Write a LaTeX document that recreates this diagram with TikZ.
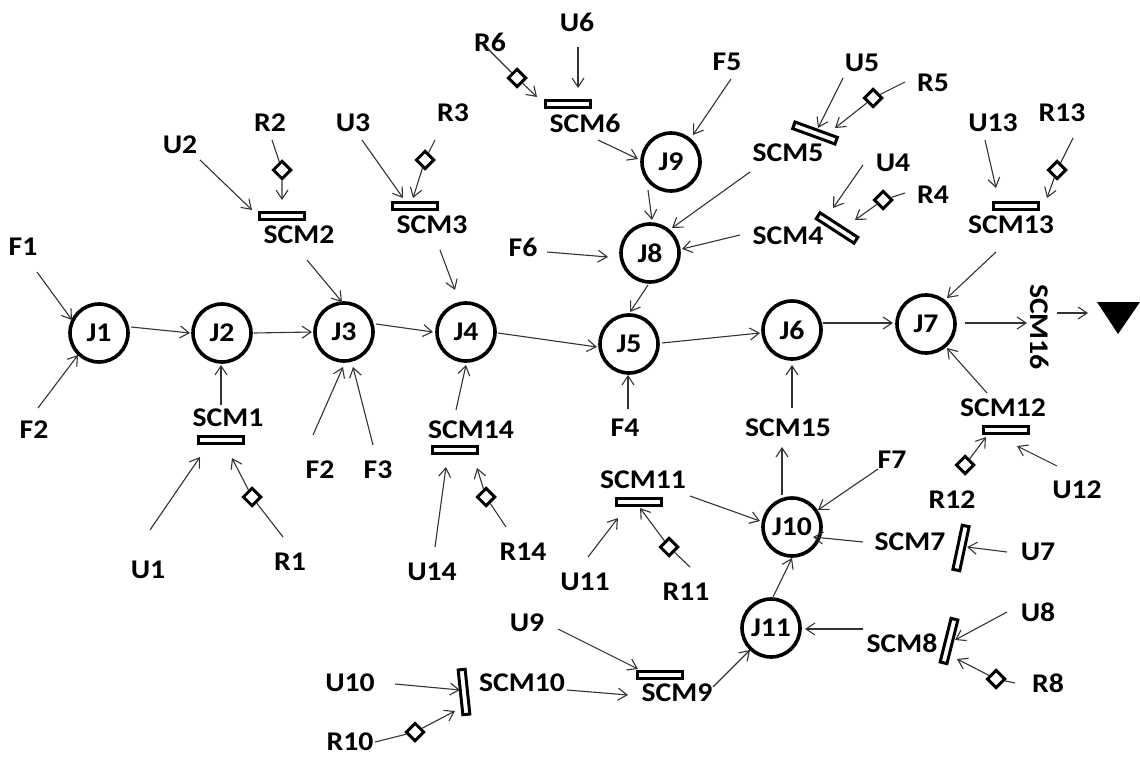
\documentclass[tikz,border=0pt]{standalone}
\usepackage{fontspec}
\setmainfont{Carlito}[FakeStretch=1.1]
\usetikzlibrary{arrows.meta,shapes.geometric,calc}

\tikzset{
  lbl/.style={font=\fontsize{27}{30}\selectfont\bfseries, inner sep=0pt, text=black},
  junc/.style={circle, draw=black, line width=3.6pt, minimum size=58pt, inner sep=0pt,
               font=\fontsize{27}{30}\selectfont\bfseries},
  gate/.style={rectangle, draw=black, line width=3pt, fill=white,
               minimum width=45pt, minimum height=7pt, inner sep=0pt},
  valve/.style={diamond, aspect=1, draw=black, line width=3pt, fill=white,
                minimum width=18.5pt, minimum height=18.5pt, inner sep=0pt},
  flow/.style={draw=black!80, line width=1.1pt,
               -{Straight Barb[length=9pt,width=12pt,line width=1.1pt]}},
}

\begin{document}
\begin{tikzpicture}[x=1pt,y=-1pt]
\useasboundingbox (0,0) rectangle (1140,759);

% junctions
\node[junc] (J1)  at (99,333)  {J1};
\node[junc] (J2)  at (222,333) {J2};
\node[junc] (J3)  at (344,332) {J3};
\node[junc] (J4)  at (466,332) {J4};
\node[junc] (J5)  at (629,344) {J5};
\node[junc] (J6)  at (792,330) {J6};
\node[junc] (J7)  at (926,324) {J7};
\node[junc] (J8)  at (650,253) {J8};
\node[junc] (J9)  at (671,162) {J9};
\node[junc] (J10) at (792,527) {J10};
\node[junc] (J11) at (771,628) {J11};

% control gates
\node[gate] (g1)  at (221,440) {};
\node[gate] (g2)  at (282,216) {};
\node[gate] (g3)  at (415,206) {};
\node[gate, rotate=-33] (g4) at (837,228) {};
\node[gate, rotate=-20] (g5) at (815,133) {};
\node[gate] (g6)  at (568,104) {};
\node[gate, rotate=78] (g7) at (961,548) {};
\node[gate, rotate=76] (g8) at (949,641) {};
\node[gate] (g9)  at (660,675) {};
\node[gate, rotate=96] (g10) at (464,692) {};
\node[gate] (g11) at (639,502) {};
\node[gate] (g12) at (1006,430) {};
\node[gate] (g13) at (1016,206) {};
\node[gate] (g14) at (455,450) {};

% labels
\node[lbl] (F1)  at (23,247)  {F1};
\node[lbl] (F2a) at (34,430)  {F2};
\node[lbl] (F2b) at (320,470) {F2};
\node[lbl] (F3)  at (378,470) {F3};
\node[lbl] (F4)  at (625,428) {F4};
\node[lbl] (F5)  at (727,62)  {F5};
\node[lbl] (F6)  at (523,247) {F6};
\node[lbl] (F7)  at (892,460) {F7};
\node[lbl] (U1)  at (148,570) {U1};
\node[lbl] (R1)  at (290,562) {R1};
\node[lbl] (U2)  at (180,145) {U2};
\node[lbl] (R2)  at (270,123) {R2};
\node[lbl] (U3)  at (353,123) {U3};
\node[lbl] (R3)  at (453,113) {R3};
\node[lbl] (U4)  at (893,163) {U4};
\node[lbl] (R4)  at (933,195) {R4};
\node[lbl] (U5)  at (862,63)  {U5};
\node[lbl] (R5)  at (933,83)  {R5};
\node[lbl] (U6)  at (577,22)  {U6};
\node[lbl] (R6)  at (490,42)  {R6};
\node[lbl] (U7)  at (1038,552) {U7};
\node[lbl] (U8)  at (1038,612) {U8};
\node[lbl] (R8)  at (1048,683) {R8};
\node[lbl] (U9)  at (527,623) {U9};
\node[lbl] (U10) at (350,683) {U10};
\node[lbl] (R10) at (350,742) {R10};
\node[lbl] (U11) at (585,582) {U11};
\node[lbl] (R11) at (686,592) {R11};
\node[lbl] (U12) at (1077,490) {U12};
\node[lbl] (R12) at (952,500) {R12};
\node[lbl] (U13) at (993,123) {U13};
\node[lbl] (R13) at (1062,113) {R13};
\node[lbl] (U14) at (432,572) {U14};
\node[lbl] (R14) at (523,552) {R14};
\node[lbl] (S1)  at (228,418) {SCM1};
\node[lbl] (S2)  at (299,235) {SCM2};
\node[lbl] (S3)  at (432,225) {SCM3};
\node[lbl] (S4)  at (788,236) {SCM4};
\node[lbl] (S5)  at (788,153) {SCM5};
\node[lbl] (S6)  at (585,123) {SCM6};
\node[lbl] (S7)  at (910,542) {SCM7};
\node[lbl] (S8)  at (902,643) {SCM8};
\node[lbl] (S9)  at (677,693) {SCM9};
\node[lbl] (S10) at (522,683) {SCM10};
\node[lbl] (S11) at (643,480) {SCM11};
\node[lbl] (S12) at (1003,408) {SCM12};
\node[lbl] (S13) at (1011,225) {SCM13};
\node[lbl] (S14) at (471,430) {SCM14};
\node[lbl] (S15) at (788,428) {SCM15};
\node[lbl, rotate=-90] (S16) at (1040,327) {SCM16};

% outlet
\coordinate (sink) at (1118,313);
\fill[black] ($(sink)+(-21,-11)$) -- ($(sink)+(22,-11)$) -- ($(sink)+(0,21)$) -- cycle;

% valves
\node[valve] (d1)  at (252,497) {};
\node[valve] (d2)  at (282,170) {};
\node[valve] (d3)  at (425,160) {};
\node[valve] (d4)  at (883,200) {};
\node[valve] (d5)  at (873,98)  {};
\node[valve] (d6)  at (517,78)  {};
\node[valve] (d8)  at (996,679) {};
\node[valve] (d10) at (415,732) {};
\node[valve] (d11) at (669,547) {};
\node[valve] (d12) at (965,465) {};
\node[valve] (d13) at (1057,170) {};
\node[valve] (d14) at (486,497) {};

% main line
\draw[flow] ($(F1)+(14,25)$) -- ($(J1)+(-27,-13)$);
\draw[flow] ($(F2a)+(4,-22)$) -- ($(J1)+(-21,22)$);
\draw[flow] ($(J1)+(32,-6)$) -- ($(J2)+(-32,0)$);
\draw[flow] ($(J2)+(32,0)$) -- ($(J3)+(-32,0)$);
\draw[flow] ($(J3)+(32,-8)$) -- ($(J4)+(-33,0)$);
\draw[flow] ($(J4)+(32,1)$) -- ($(J5)+(-32,3)$);
\draw[flow] ($(J5)+(33,-1)$) -- ($(J6)+(-32,3)$);
\draw[flow] ($(J6)+(31,-7)$) -- ($(J7)+(-33,-1)$);
\draw[flow] ($(J7)+(39,-1)$) -- ($(S16)+(-13,-4)$);
\draw[flow] ($(S16)+(17,-14)$) -- ($(sink)+(-30,0)$);

% J2 / SCM1
\draw[flow] ($(S1)+(-7,-13)$) -- ($(J2)+(-1,32)$);
\draw[flow] ($(U1)+(2,-40)$) -- ($(g1)+(-21,17)$);
\draw[flow] ($(R1)+(-7,-25)$) -- (d1) -- ($(g1)+(11,18)$);

% J3
\draw[flow] ($(F2b)+(-7,-35)$) -- ($(J3)+(-1,35)$);
\draw[flow] ($(F3)+(-5,-25)$) -- ($(J3)+(9,35)$);
\draw[flow] ($(U2)+(20,15)$) -- ($(g2)+(-30,-6)$);
\draw[flow] ($(R2)+(2,17)$) -- (d2) -- ($(g2)+(0,-16)$);
\draw[flow] ($(S2)+(8,25)$) -- ($(J3)+(-2,-30)$);

% J4
\draw[flow] ($(U3)+(9,17)$) -- ($(g3)+(-12,-8)$);
\draw[flow] ($(R3)+(-18,27)$) -- (d3) -- ($(g3)+(-2,-8)$);
\draw[flow] ($(S3)+(8,25)$) -- ($(J4)+(-11,-42)$);
\draw[flow] ($(S14)+(-15,-20)$) -- ($(J4)+(0,33)$);
\draw[flow] ($(U14)+(3,-25)$) -- ($(g14)+(-9,17)$);
\draw[flow] ($(R14)+(-17,-25)$) -- (d14) -- ($(g14)+(22,18)$);

% J5, J8, J9
\draw[flow] ($(F4)+(3,-19)$) -- ($(J5)+(-1,31)$);
\draw[flow] ($(J8)+(-2,32)$) -- ($(J5)+(1,-32)$);
\draw[flow] ($(F6)+(24,5)$) -- ($(J8)+(-42,4)$);
\draw[flow] ($(S5)+(-38,19)$) -- ($(J8)+(22,-25)$);
\draw[flow] ($(S4)+(-48,-1)$) -- ($(J8)+(32,-4)$);
\draw[flow] ($(J9)+(-23,28)$) -- ($(J8)+(2,-33)$);
\draw[flow] ($(S6)+(13,17)$) -- ($(J9)+(-33,-3)$);
\draw[flow] ($(F5)+(4,17)$) -- ($(J9)+(22,-27)$);
\draw[flow] ($(U6)+(1,25)$) -- ($(g6)+(10,-16)$);
\draw[flow] ($(R6)+(-3,6)$) -- (d6) -- ($(g6)+(-31,-7)$);
\draw[flow] ($(U5)+(-19,15)$) -- ($(g5)+(3,-5)$);
\draw[flow] ($(R5)+(-28,-1)$) -- (d5) -- ($(g5)+(20,-5)$);
\draw[flow] ($(U4)+(-30,2)$) -- ($(g4)+(-4,-20)$);
\draw[flow] ($(R4)+(-28,-2)$) -- (d4) -- ($(g4)+(18,-8)$);

% J7
\draw[flow] ($(U13)+(-8,17)$) -- ($(g13)+(-20,-18)$);
\draw[flow] ($(R13)+(11,25)$) -- (d13) -- ($(g13)+(31,-8)$);
\draw[flow] ($(S13)+(-15,27)$) -- ($(J7)+(21,-26)$);
\draw[flow] ($(S12)+(-16,-15)$) -- ($(J7)+(21,24)$);
\draw[flow] (d12) -- ($(g12)+(-20,7)$);
\draw[flow] ($(U12)+(-20,-24)$) -- ($(g12)+(11,16)$);

% J6, J10, J11
\draw[flow] ($(S15)+(4,-20)$) -- ($(J6)+(0,35)$);
\draw[flow] ($(J10)+(-10,-32)$) -- ($(S15)+(-6,19)$);
\draw[flow] ($(F7)+(-14,9)$) -- ($(J10)+(26,-17)$);
\draw[flow] ($(S7)+(-47,0)$) -- ($(J10)+(21,10)$);
\draw[flow] ($(U7)+(-31,0)$) -- ($(g7)+(6,-1)$);
\draw[flow] ($(S11)+(47,16)$) -- ($(J10)+(-32,-6)$);
\draw[flow] ($(U11)+(3,-25)$) -- ($(g11)+(-21,16)$);
\draw[flow] ($(R11)+(4,-25)$) -- (d11) -- ($(g11)+(1,6)$);
\draw[flow] ($(J11)+(2,-31)$) -- ($(J10)+(0,31)$);
\draw[flow] ($(S8)+(-39,-14)$) -- ($(J11)+(34,1)$);
\draw[flow] ($(U8)+(-31,0)$) -- ($(g8)+(6,-1)$);
\draw[flow] ($(R8)+(-33,0)$) -- (d8) -- ($(g8)+(8,18)$);
\draw[flow] ($(S9)+(36,-6)$) -- ($(J11)+(-21,22)$);
\draw[flow] ($(U9)+(31,6)$) -- ($(g9)+(-22,-6)$);
\draw[flow] ($(S10)+(45,7)$) -- ($(S9)+(-49,2)$);
\draw[flow] ($(U10)+(45,1)$) -- ($(g10)+(-4,-2)$);
\draw[flow] ($(R10)+(25,0)$) -- (d10) -- ($(g10)+(-9,19)$);
\end{tikzpicture}
\end{document}
